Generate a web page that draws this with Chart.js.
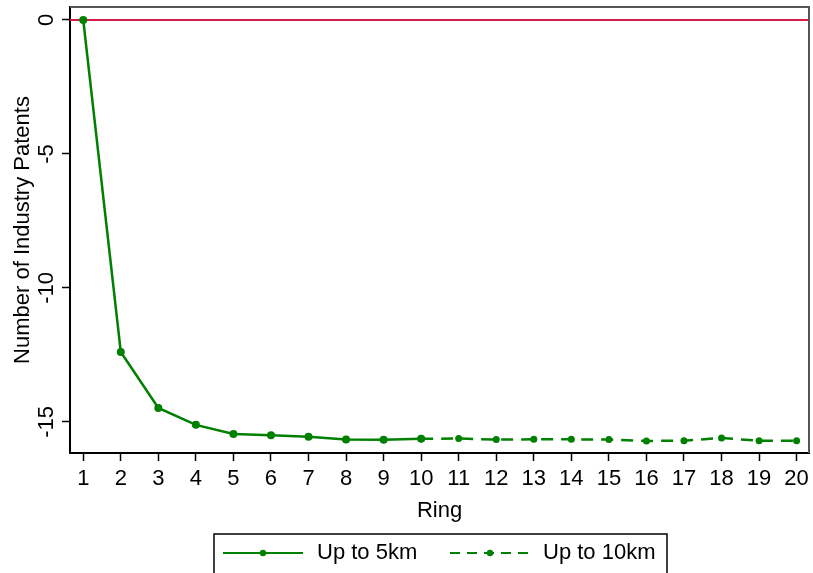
<!DOCTYPE html>
<html>
<head>
<meta charset="utf-8">
<script src="https://cdn.jsdelivr.net/npm/chart.js@4.4.1/dist/chart.umd.min.js"></script>
<style>
  html, body { margin: 0; padding: 0; background: #fff; }
  #wrap { width: 813px; height: 573px; position: relative; }
</style>
</head>
<body>
<div id="wrap"><canvas id="c" width="813" height="573"></canvas></div>
<script>
// ---- Data ----
const rings = [1,2,3,4,5,6,7,8,9,10,11,12,13,14,15,16,17,18,19,20];
const upTo5km = [0, -12.39, -14.48, -15.11, -15.45, -15.50, -15.55, -15.66, -15.67, -15.63,
                 null, null, null, null, null, null, null, null, null, null];
const upTo10km = [null, null, null, null, null, null, null, null, null, -15.63,
                  -15.62, -15.66, -15.65, -15.65, -15.66, -15.71, -15.70, -15.60, -15.70, -15.70];
const xTickLabels = ['1','2','3','4','5','6','7','8','9','10','11','12','13','14','15','16','17','18','19','20'];
const yTickValues = [0, -5, -10, -15];
const yTickLabels = ['0', '-5', '-10', '-15'];
const seriesNames = ['Up to 5km', 'Up to 10km'];
const refLineValue = 0;
const xTitle = 'Ring';
const yTitle = 'Number of Industry Patents';

const GREEN = '#008000';
const RED = '#d81b4a';
const FONT = '"Liberation Sans", Arial, sans-serif';
const FS = 22;

const toPts = (arr) => rings.map((r, i) => ({ x: r, y: arr[i] }));

const customDraw = {
  id: 'customDraw',
  beforeDatasetsDraw(chart) {
    const { ctx, chartArea: a, scales } = chart;
    const y0 = scales.y.getPixelForValue(refLineValue);
    ctx.save();
    ctx.strokeStyle = RED;
    ctx.lineWidth = 2;
    ctx.beginPath();
    ctx.moveTo(a.left, y0);
    ctx.lineTo(a.right, y0);
    ctx.stroke();
    ctx.restore();
  },
  afterDraw(chart) {
    const { ctx, chartArea: a, scales } = chart;
    ctx.save();
    // top & right frame
    ctx.strokeStyle = '#555';
    ctx.lineWidth = 2;
    ctx.beginPath();
    ctx.moveTo(a.left, a.top);
    ctx.lineTo(a.right, a.top);
    ctx.lineTo(a.right, a.bottom);
    ctx.stroke();

    // y tick labels (rotated)
    ctx.fillStyle = '#000';
    ctx.font = FS + 'px ' + FONT;
    ctx.textAlign = 'center';
    ctx.textBaseline = 'alphabetic';
    yTickValues.forEach((v, i) => {
      const py = scales.y.getPixelForValue(v);
      ctx.save();
      ctx.translate(53, py);
      ctx.rotate(-Math.PI / 2);
      ctx.fillText(yTickLabels[i], 0, 0);
      ctx.restore();
    });
    // y title
    ctx.save();
    ctx.translate(29, (a.top + a.bottom) / 2);
    ctx.rotate(-Math.PI / 2);
    ctx.fillText(yTitle, 0, 0);
    ctx.restore();
    // x title
    ctx.fillText(xTitle, (a.left + a.right) / 2, 517);

    // legend
    const lx = 214, ly = 534, lw = 453, lh = 40;
    ctx.strokeStyle = '#000';
    ctx.lineWidth = 1.5;
    ctx.strokeRect(lx, ly, lw, lh);
    const cy = 553;
    ctx.strokeStyle = GREEN;
    ctx.lineWidth = 2;
    ctx.setLineDash([]);
    ctx.beginPath(); ctx.moveTo(223, cy); ctx.lineTo(303, cy); ctx.stroke();
    ctx.fillStyle = GREEN;
    ctx.beginPath(); ctx.arc(263, cy, 3.2, 0, Math.PI * 2); ctx.fill();
    ctx.setLineDash([10, 7]);
    ctx.beginPath(); ctx.moveTo(450, cy); ctx.lineTo(530, cy); ctx.stroke();
    ctx.setLineDash([]);
    ctx.beginPath(); ctx.arc(490, cy, 3.2, 0, Math.PI * 2); ctx.fill();
    ctx.fillStyle = '#000';
    ctx.textAlign = 'left';
    ctx.textBaseline = 'middle';
    ctx.font = FS + 'px ' + FONT;
    ctx.fillText(seriesNames[0], 317, cy);
    ctx.fillText(seriesNames[1], 543, cy);
    ctx.restore();
  }
};

new Chart(document.getElementById('c'), {
  type: 'line',
  data: {
    datasets: [
      {
        label: seriesNames[0],
        data: toPts(upTo5km),
        borderColor: GREEN,
        backgroundColor: GREEN,
        borderWidth: 2.5,
        pointRadius: 4,
        pointBorderWidth: 0,
        tension: 0,
        spanGaps: false
      },
      {
        label: seriesNames[1],
        data: toPts(upTo10km),
        borderColor: GREEN,
        backgroundColor: GREEN,
        borderWidth: 2.5,
        borderDash: [12, 8],
        pointRadius: 3.5,
        pointBorderWidth: 0,
        tension: 0,
        spanGaps: false
      }
    ]
  },
  options: {
    responsive: false,
    animation: false,
    devicePixelRatio: 1,
    layout: { padding: { top: 7, right: 0, left: 0, bottom: 0 } },
    plugins: { legend: { display: false }, tooltip: { enabled: false } },
    scales: {
      x: {
        type: 'linear',
        min: 0.647,
        max: 20.33,
        afterBuildTicks: (s) => { s.ticks = rings.map(v => ({ value: v })); },
        afterFit: (s) => { s.height = 120; s.paddingLeft = 0; s.paddingRight = 0; },
        ticks: {
          color: '#000',
          font: { family: FONT, size: FS },
          padding: 5,
          maxRotation: 0,
          autoSkip: false,
          callback: (v) => xTickLabels[rings.indexOf(v)]
        },
        grid: { drawOnChartArea: false, tickLength: 8, color: '#000', tickWidth: 1.5 },
        border: { color: '#000', width: 2 }
      },
      y: {
        type: 'linear',
        min: -16.16,
        max: 0.485,
        afterBuildTicks: (s) => { s.ticks = yTickValues.map(v => ({ value: v })); },
        afterFit: (s) => { s.width = 70; s.paddingTop = 0; s.paddingBottom = 0; },
        ticks: { display: false },
        grid: { drawOnChartArea: false, tickLength: 8, color: '#000', tickWidth: 1.5 },
        border: { color: '#000', width: 2 }
      }
    }
  },
  plugins: [customDraw]
});
</script>
</body>
</html>
